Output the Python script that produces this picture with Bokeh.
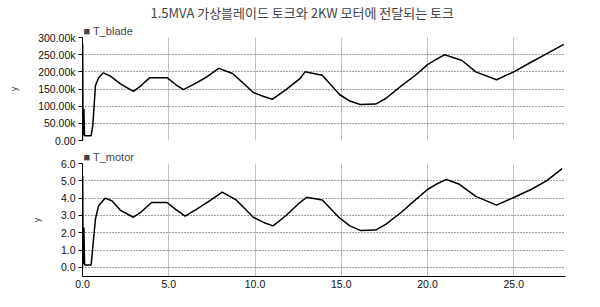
from bokeh.plotting import figure
from bokeh.layouts import column
from bokeh.models import (Title, CustomJSTickFormatter, FixedTicker,
                          Range1d, PrintfTickFormatter)
from bokeh.embed import file_html
from bokeh.resources import INLINE

TITLE = "1.5MVA 가상블레이드 토크와 2KW 모터에 전달되는 토크"

t_blade = [0, 0.01, 0.03, 0.08, 0.12, 0.5, 0.6, 0.75, 0.93, 1.2, 1.6, 2.2, 2.95, 3.4, 3.9,
           4.9, 5.4, 5.85, 6.5, 7.2, 7.9, 8.7, 9.3, 9.9, 10.5, 11.0, 11.8, 12.6, 12.9,
           13.9, 14.9, 15.5, 16.1, 17.0, 17.6, 18.5, 19.3, 20.0, 20.5, 21.0, 22.0, 22.8,
           24.0, 25.0, 26.0, 27.0, 27.9]
T_blade = [0, 280000, 15000, 92000, 14000, 14000, 45000, 160000, 182000, 197000, 188000,
           165000, 143000, 160000, 183000, 183000, 163000, 148000, 165000, 185000, 210000,
           195000, 168000, 140000, 128000, 120000, 148000, 180000, 200000, 190000, 134000,
           115000, 105000, 106000, 123000, 160000, 190000, 221000, 236000, 250000, 233000,
           200000, 177000, 200000, 228000, 255000, 280000]

t_motor = [0, 0.01, 0.03, 0.08, 0.12, 0.5, 0.6, 0.75, 0.93, 1.3, 1.7, 2.2, 2.95, 3.4, 4.0,
           4.9, 5.4, 5.95, 6.6, 7.3, 8.1, 8.9, 9.4, 9.9, 10.5, 11.05, 11.8, 12.6, 13.0,
           13.9, 14.9, 15.5, 16.1, 17.0, 17.6, 18.5, 19.3, 20.0, 20.5, 21.1, 21.85, 22.8,
           24.0, 25.0, 26.0, 26.9, 27.8]
T_motor = [0, 5.3, 0.2, 2.3, 0.15, 0.15, 1.2, 2.8, 3.55, 4.0, 3.85, 3.3, 2.9, 3.2, 3.75,
           3.75, 3.35, 2.96, 3.35, 3.8, 4.35, 3.9, 3.4, 2.9, 2.6, 2.4, 3.0, 3.75, 4.05,
           3.9, 2.86, 2.4, 2.14, 2.16, 2.5, 3.2, 3.9, 4.5, 4.8, 5.08, 4.8, 4.1, 3.6, 4.04,
           4.5, 5.0, 5.7]

x_ticks = [0, 5, 10, 15, 20, 25]
blade_ticks = [0, 50000, 100000, 150000, 200000, 250000, 300000]
motor_ticks = [0, 1, 2, 3, 4, 5, 6]

FONT = "Liberation Sans"


def style(p, yticks):
    p.background_fill_color = "white"
    p.border_fill_color = "white"
    p.outline_line_color = None
    p.xaxis.ticker = FixedTicker(ticks=x_ticks)
    p.yaxis.ticker = FixedTicker(ticks=yticks)
    p.xgrid.grid_line_color = "#808080"
    p.xgrid.grid_line_dash = "1 1"
    p.ygrid.grid_line_color = "#404040"
    p.ygrid.grid_line_dash = "1 2"
    for ax in (p.xaxis, p.yaxis):
        ax.axis_line_color = "black"
        ax.major_tick_line_color = "black"
        ax.major_tick_out = 4
        ax.major_tick_in = 0
        ax.minor_tick_line_color = None
        ax.major_label_text_font = FONT
        ax.major_label_text_font_size = "10.5px"
        ax.major_label_text_color = "#111111"
    p.yaxis.axis_label = "y"
    p.yaxis.axis_label_text_font = FONT
    p.yaxis.axis_label_text_font_size = "9px"
    p.yaxis.axis_label_text_font_style = "normal"
    p.yaxis.axis_label_standoff = 16
    p.yaxis.major_label_standoff = 3


def add_legend(p, label):
    p.add_layout(Title(text="\u25a0 " + label, align="left", text_font=FONT,
                       text_font_size="11px", text_font_style="normal",
                       standoff=1, offset=1), "above")


p1 = figure(width=592, height=148, x_range=Range1d(0, 28), y_range=Range1d(0, 300000),
            output_backend="svg", toolbar_location=None, min_border_left=82,
            min_border_right=27, min_border_top=34, min_border_bottom=8)
style(p1, blade_ticks)
p1.yaxis.formatter = CustomJSTickFormatter(
    code="return tick == 0 ? '0.00' : (tick/1000).toFixed(2) + 'k';")
p1.xaxis.visible = False
p1.line(t_blade, T_blade, line_color="black", line_width=1.5)
add_legend(p1, "T_blade")
p1.add_layout(Title(text=TITLE, align="left", text_font="Noto Sans CJK KR",
                    text_font_size="13px", text_font_style="normal", standoff=1,
                    offset=68), "above")

p2 = figure(width=592, height=151, x_range=p1.x_range, y_range=Range1d(-0.52, 6.0),
            output_backend="svg", toolbar_location=None, min_border_left=82,
            min_border_right=27, min_border_top=13, min_border_bottom=23)
style(p2, motor_ticks)
p2.yaxis.formatter = PrintfTickFormatter(format="%.1f")
p2.xaxis.formatter = PrintfTickFormatter(format="%.1f")
p2.xaxis.major_tick_out = 0
p2.xaxis.major_label_standoff = 3
p2.line(t_motor, T_motor, line_color="black", line_width=1.5)
add_legend(p2, "T_motor")

layout = column(p1, p2, spacing=0)
open("out.html", "w").write(file_html(layout, INLINE))
